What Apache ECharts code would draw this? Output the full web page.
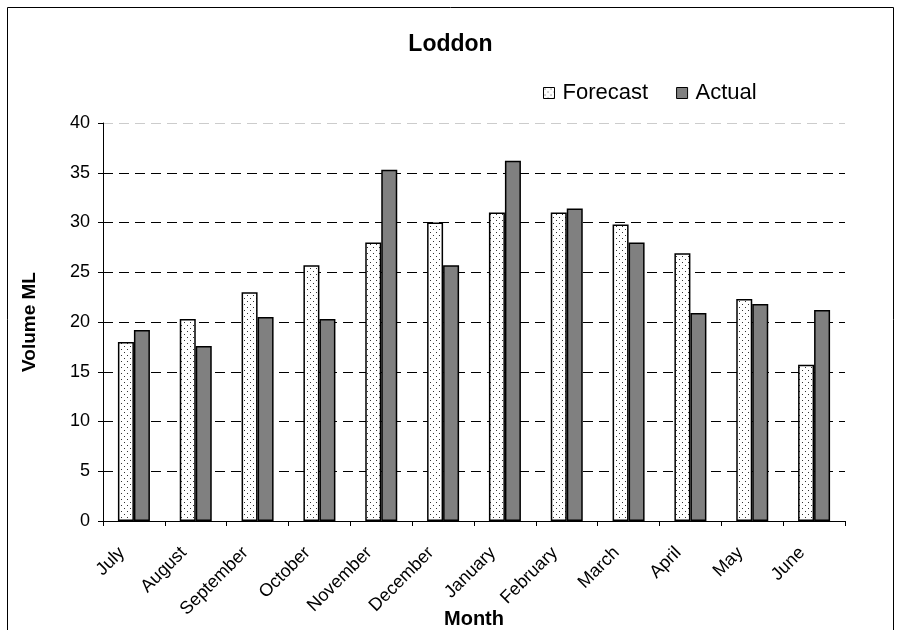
<!DOCTYPE html>
<html><head><meta charset="utf-8">
<script src="https://cdn.jsdelivr.net/npm/echarts@6/dist/echarts.min.js"></script>
<style>html,body{margin:0;padding:0;background:#fff;overflow:hidden}#c{width:901px;height:630px}</style>
</head><body><div id="c"></div>
<script>
const categories = ['July','August','September','October','November','December','January','February','March','April','May','June'];
const forecast = [18.0, 20.3, 23.0, 25.7, 28.0, 30.0, 31.0, 31.0, 29.8, 26.9, 22.3, 15.7];
const actual   = [19.2, 17.6, 20.5, 20.3, 35.3, 25.7, 36.2, 31.4, 28.0, 20.9, 21.8, 21.2];

function dotPattern(){
  const c = document.createElement('canvas');
  c.width = 6; c.height = 6;
  const g = c.getContext('2d');
  g.fillStyle = '#fff'; g.fillRect(0,0,6,6);
  g.fillStyle = '#333';
  g.fillRect(1,1,1,1);
  g.fillRect(4,4,1,1);
  return c;
}
const pat = {image: dotPattern(), repeat: 'repeat'};

const chart = echarts.init(document.getElementById('c'));
const font = 'Liberation Sans, Arial, sans-serif';
chart.setOption({
  backgroundColor: '#fff',
  animation: false,
  textStyle: {fontFamily: font},
  graphic: [{type:'rect', shape:{x:7.5, y:7.5, width:886, height:640}, style:{fill:'none', stroke:'#000', lineWidth:1}, silent:true, z:-1}],
  title: {text:'Loddon', left:'center', top:28, textStyle:{fontFamily:font, fontWeight:'bold', fontSize:23, color:'#000'}},
  legend: {
    left: 538, top: 77, itemWidth: 11, itemHeight: 11, itemGap: 28,
    textStyle: {fontFamily: font, fontSize: 22, color:'#000', padding:[0,0,0,3]},
    data: [
      {name:'Forecast', icon:'rect', itemStyle:{color:pat, borderColor:'#000', borderWidth:1}},
      {name:'Actual', icon:'rect', itemStyle:{color:'#808080', borderColor:'#000', borderWidth:1}}
    ]
  },
  grid: {left:103, right:56, top:123, bottom:109, containLabel:false, outerBoundsMode:'none'},
  xAxis: {
    type:'category', data: categories,
    name:'Month', nameLocation:'middle', nameGap:88, nameMoveOverlap:false,
    nameTextStyle:{fontFamily:font, fontWeight:'bold', fontSize:20, color:'#000'},
    axisLine:{lineStyle:{color:'#000', width:1}},
    axisTick:{show:true, alignWithLabel:false, length:5, lineStyle:{color:'#000'}},
    axisLabel:{rotate:45, fontSize:18, color:'#000', fontFamily:font, margin:17, padding:[0,17,0,0], interval:0}
  },
  yAxis: {
    type:'value', min:0, max:40, interval:5,
    name:'Volume ML', nameLocation:'middle', nameGap:64, nameMoveOverlap:false,
    nameTextStyle:{fontFamily:font, fontWeight:'bold', fontSize:19, color:'#000'},
    axisLine:{show:true, lineStyle:{color:'#000', width:1}},
    axisTick:{show:true, length:5, lineStyle:{color:'#000'}},
    axisLabel:{fontSize:18, color:'#000', fontFamily:font, margin:13},
    splitLine:{show:true, lineStyle:{color:['#000','#000','#000','#000','#000','#000','#000','#000','#ccc'], type:[10,6], width:1}}
  },
  series: [
    {name:'Forecast', type:'bar', data: forecast, barWidth:16, barGap:'0%',
     itemStyle:{color:pat, borderColor:'#000', borderWidth:1.5}},
    {name:'Actual', type:'bar', data: actual, barWidth:16, barGap:'0%',
     itemStyle:{color:'#808080', borderColor:'#000', borderWidth:1.5}}
  ]
});
</script></body></html>
